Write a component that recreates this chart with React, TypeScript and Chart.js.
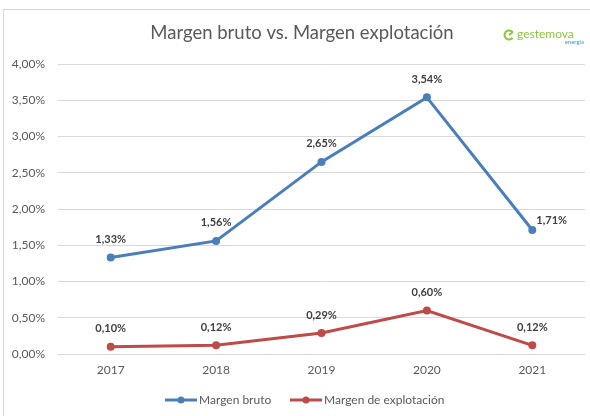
import React, { useEffect, useRef } from "react";
import { Chart, registerables } from "chart.js";
Chart.register(...registerables);

const title = "Margen bruto vs. Margen explotación";
const years = ["2017", "2018", "2019", "2020", "2021"];
const margenBruto = [1.33, 1.56, 2.65, 3.54, 1.71];
const margenExplotacion = [0.1, 0.12, 0.29, 0.6, 0.12];
const seriesNames = ["Margen bruto", "Margen de explotación"];
const colors = ["#4a7ebb", "#be4b48"];
const FONT = "Lato, 'Open Sans', sans-serif";

const fmt = (v: number) => v.toFixed(2).replace(".", ",") + "%";

const decorPlugin = {
  id: "decor",
  beforeDraw(chart: any) {
    const ctx = chart.ctx;
    ctx.save();
    ctx.fillStyle = "#ffffff";
    ctx.fillRect(0, 0, chart.width, chart.height);
    ctx.strokeStyle = "#d9d9d9";
    ctx.lineWidth = 1;
    ctx.strokeRect(3.5, 9.5, chart.width, chart.height);
    ctx.restore();
  },
  afterDraw(chart: any) {
    const ctx = chart.ctx;
    ctx.save();
    // title
    ctx.fillStyle = "#595959";
    ctx.font = `18.5px ${FONT}`;
    ctx.textAlign = "center";
    ctx.textBaseline = "middle";
    ctx.fillText(title, 302, 33);
    // logo
    ctx.strokeStyle = "#8dc63f";
    ctx.lineWidth = 2;
    ctx.beginPath();
    ctx.arc(509, 35, 4.5, 0.2 * Math.PI, 1.8 * Math.PI);
    ctx.stroke();
    ctx.beginPath();
    ctx.moveTo(509, 35);
    ctx.lineTo(513, 32);
    ctx.stroke();
    ctx.fillStyle = "#8dc63f";
    ctx.font = `12px ${FONT}`;
    ctx.textAlign = "left";
    ctx.fillText("gestemova", 517, 34);
    ctx.fillStyle = "#3a9ad9";
    ctx.font = `6px ${FONT}`;
    ctx.textAlign = "right";
    ctx.fillText("energia", 584, 42);
    // legend
    const items = [
      { x: 165, name: seriesNames[0], c: colors[0] },
      { x: 290, name: seriesNames[1], c: colors[1] },
    ];
    const ly = 400;
    items.forEach((it) => {
      ctx.strokeStyle = it.c;
      ctx.lineWidth = 3;
      ctx.beginPath();
      ctx.moveTo(it.x, ly);
      ctx.lineTo(it.x + 32, ly);
      ctx.stroke();
      ctx.fillStyle = it.c;
      ctx.beginPath();
      ctx.arc(it.x + 16, ly, 3.5, 0, Math.PI * 2);
      ctx.fill();
      ctx.fillStyle = "#595959";
      ctx.font = `12px ${FONT}`;
      ctx.textAlign = "left";
      ctx.textBaseline = "middle";
      ctx.fillText(it.name, it.x + 34, ly);
    });
    ctx.restore();
  },
  afterDatasetsDraw(chart: any) {
    const ctx = chart.ctx;
    ctx.save();
    ctx.fillStyle = "#404040";
    ctx.font = `bold 11px ${FONT}`;
    ctx.textBaseline = "middle";
    chart.data.datasets.forEach((ds: any, di: number) => {
      const meta = chart.getDatasetMeta(di);
      meta.data.forEach((pt: any, i: number) => {
        const v = ds.data[i];
        if (di === 0 && i === ds.data.length - 1) {
          ctx.textAlign = "left";
          ctx.fillText(fmt(v), pt.x + 4, pt.y - 10);
        } else {
          ctx.textAlign = "center";
          ctx.fillText(fmt(v), pt.x, pt.y - 18);
        }
      });
    });
    ctx.restore();
  },
};

export default function App() {
  const ref = useRef<HTMLCanvasElement>(null);
  useEffect(() => {
    document.body.style.margin = "0";
    const chart = new Chart(ref.current!, {
      type: "line",
      data: {
        labels: years,
        datasets: [
          {
            label: seriesNames[0],
            data: margenBruto,
            borderColor: colors[0],
            backgroundColor: colors[0],
            borderWidth: 3,
            pointRadius: 4,
            pointBackgroundColor: colors[0],
            pointBorderWidth: 0,
            tension: 0,
          },
          {
            label: seriesNames[1],
            data: margenExplotacion,
            borderColor: colors[1],
            backgroundColor: colors[1],
            borderWidth: 3,
            pointRadius: 4,
            pointBackgroundColor: colors[1],
            pointBorderWidth: 0,
            tension: 0,
          },
        ],
      },
      options: {
        animation: false,
        responsive: false,
        devicePixelRatio: 1,
        layout: { padding: { top: 64, right: 5, left: 0, bottom: 0 } },
        plugins: {
          legend: { display: false },
          title: { display: false },
          tooltip: { enabled: false },
        },
        scales: {
          x: {
            offset: true,
            grid: { display: false, drawTicks: false, offset: true },
            border: { display: false },
            ticks: { color: "#595959", font: { family: FONT, size: 12 }, padding: 9 },
            afterFit: (s: any) => {
              s.height = 62;
            },
          },
          y: {
            min: 0,
            max: 4,
            grid: { color: "#d9d9d9", lineWidth: 1, drawTicks: false },
            border: { display: false },
            ticks: {
              stepSize: 0.5,
              color: "#595959",
              font: { family: FONT, size: 12 },
              padding: 13,
              callback: (v: any) => fmt(Number(v)),
            },
            afterFit: (s: any) => {
              s.width = 58;
            },
          },
        },
      },
      plugins: [decorPlugin],
    });
    return () => chart.destroy();
  }, []);
  return (
    <div style={{ width: 590, height: 416 }}>
      <canvas ref={ref} width={590} height={416} style={{ display: "block" }} />
    </div>
  );
}
